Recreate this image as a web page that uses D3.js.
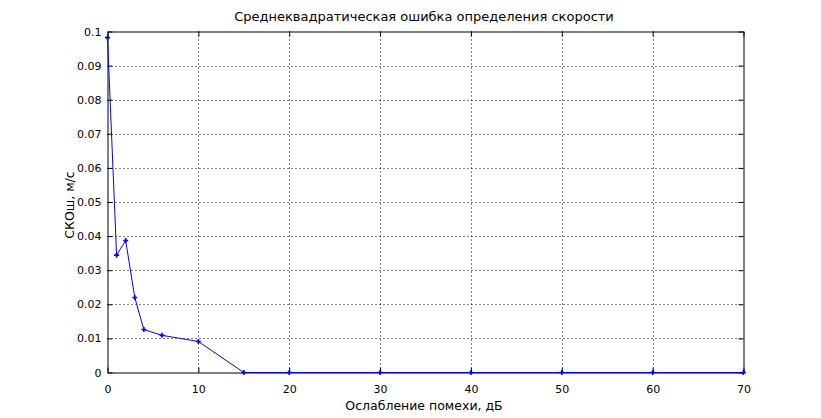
<!DOCTYPE html>
<html><head><meta charset="utf-8">
<script src="https://cdn.jsdelivr.net/npm/d3@7"></script>
<style>body{margin:0;background:#fff}svg{display:block}text{font-family:"DejaVu Sans",sans-serif;fill:#000}</style>
</head><body>
<svg id="c" width="821" height="418"></svg>
<script>
const xValues = [0, 1, 2, 3, 4, 6, 10, 15, 20, 30, 40, 50, 60, 70];
const yValues = [0.0982, 0.0344, 0.0387, 0.0220, 0.0126, 0.0109, 0.0091, 0, 0, 0, 0, 0, 0, 0];
const xTicks = [0, 10, 20, 30, 40, 50, 60, 70];
const yTicks = [0, 0.01, 0.02, 0.03, 0.04, 0.05, 0.06, 0.07, 0.08, 0.09, 0.1];
const title = "Среднеквадратическая ошибка определения скорости";
const xLabel = "Ослабление помехи, дБ";
const yLabel = "СКОш, м/с";

const L = 107.5, R = 743.5, T = 31.5, B = 372.5;
const svg = d3.select("#c");
const x = d3.scaleLinear().domain([0, 70]).range([L, R]);
const y = d3.scaleLinear().domain([0, 0.1]).range([B, T]);
const fmt = d => d === 0 ? "0" : String(+d.toFixed(2));

// grid
const g = svg.append("g");
g.selectAll(".gx").data(xTicks.slice(1, -1)).join("line")
  .attr("x1", d => Math.round(x(d)) + 0.5).attr("x2", d => Math.round(x(d)) + 0.5)
  .attr("y1", T).attr("y2", B).attr("stroke", "#000").attr("stroke-dasharray", "1,3");
g.selectAll(".gy").data(yTicks.slice(1, -1)).join("line")
  .attr("y1", d => Math.round(y(d)) + 0.5).attr("y2", d => Math.round(y(d)) + 0.5)
  .attr("x1", L).attr("x2", R).attr("stroke", "#000").attr("stroke-dasharray", "1,3");

// axes
const axB = svg.append("g").attr("transform", `translate(0,${B})`)
  .call(d3.axisBottom(x).tickValues(xTicks).tickSizeInner(-5).tickSizeOuter(0).tickPadding(13).tickFormat(fmt));
const axT = svg.append("g").attr("transform", `translate(0,${T})`)
  .call(d3.axisTop(x).tickValues(xTicks).tickSizeInner(-5).tickSizeOuter(0).tickFormat(""));
const axL = svg.append("g").attr("transform", `translate(${L},0)`)
  .call(d3.axisLeft(y).tickValues(yTicks).tickSizeInner(-5).tickSizeOuter(0).tickPadding(6).tickFormat(fmt));
const axR = svg.append("g").attr("transform", `translate(${R},0)`)
  .call(d3.axisRight(y).tickValues(yTicks).tickSizeInner(-5).tickSizeOuter(0).tickFormat(""));
[axB, axT, axL, axR].forEach(a => {
  a.select(".domain").attr("stroke", "#000").attr("stroke-width", 1);
  a.selectAll(".tick line").attr("stroke", "#000");
  a.selectAll("text").attr("font-size", 11).attr("font-family", "DejaVu Sans, sans-serif").attr("fill", "#000");
});

// line
svg.append("path").datum(xValues.map((v, i) => [v, yValues[i]]))
  .attr("fill", "none").attr("stroke", "#0000ff").attr("stroke-width", 1)
  .attr("d", d3.line().x(d => x(d[0])).y(d => y(d[1])));
svg.selectAll(".m").data(xValues.map((v, i) => [v, yValues[i]])).join("path")
  .attr("transform", d => `translate(${x(d[0])},${y(d[1])})`)
  .attr("d", d3.symbol(d3.symbolCross, 14))
  .attr("fill", "#0000ff");

// labels
svg.append("text").attr("x", 424).attr("y", 21).attr("text-anchor", "middle").attr("font-size", 13).text(title);
svg.append("text").attr("x", 424).attr("y", 410).attr("text-anchor", "middle").attr("font-size", 12.5).text(xLabel);
svg.append("text").attr("transform", "translate(73.5,205) rotate(-90)").attr("text-anchor", "middle").attr("font-size", 12.5).text(yLabel);
</script>
</body></html>
